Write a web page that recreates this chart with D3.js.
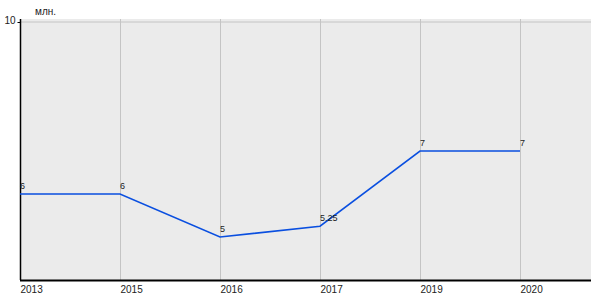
<!DOCTYPE html>
<html>
<head>
<meta charset="utf-8">
<script src="https://cdn.jsdelivr.net/npm/d3@7"></script>
<style>
  body { margin: 0; background: #fff; }
  text { font-family: "Liberation Sans", Arial, sans-serif; fill: #222; }
</style>
</head>
<body>
<svg id="chart" width="600" height="300"></svg>
<script>
const years = ['2013', '2015', '2016', '2017', '2019', '2020'];
const values = [6, 6, 5, 5.25, 7, 7];
const valueLabels = ['6', '6', '5', '5.25', '7', '7'];
const yTicks = [10];
const unitLabel = 'млн.';

const plotLeft = 20, plotRight = 591, plotTop = 19, plotBottom = 280;
const svg = d3.select('#chart');

let x = d3.scalePoint()
    .domain(years)
    .range([plotLeft, 520]);
let y = d3.scaleLinear()
    .domain([4, 10])
    .range([plotBottom, 22]);

svg.append('rect')
    .attr('x', plotLeft)
    .attr('y', plotTop)
    .attr('width', plotRight - plotLeft)
    .attr('height', plotBottom - plotTop)
    .attr('fill', '#ebebeb');

// horizontal grid at labelled ticks
svg.selectAll('line.hgrid')
    .data(yTicks)
    .enter().append('line')
    .attr('class', 'hgrid')
    .attr('x1', plotLeft).attr('x2', plotRight)
    .attr('y1', d => y(d)).attr('y2', d => y(d))
    .attr('stroke', '#c4c4c4');

// vertical grid
svg.selectAll('line.vgrid')
    .data(years)
    .enter().append('line')
    .attr('class', 'vgrid')
    .attr('x1', d => x(d) + 0.5).attr('x2', d => x(d) + 0.5)
    .attr('y1', plotTop).attr('y2', plotBottom)
    .attr('stroke', '#c4c4c4');

// x axis
let xAxis = d3.axisBottom(x).tickSize(0).tickPadding(6);
let gx = svg.append('g')
    .attr('transform', `translate(0, ${plotBottom})`)
    .call(xAxis);
gx.select('.domain').remove();
gx.selectAll('text')
    .attr('text-anchor', 'start')
    .attr('font-size', 10)
    .attr('font-family', 'Liberation Sans, Arial, sans-serif');
svg.append('line')
    .attr('x1', plotLeft).attr('x2', plotRight)
    .attr('y1', plotBottom + 0.5).attr('y2', plotBottom + 0.5)
    .attr('stroke', '#000').attr('stroke-width', 2);

// y axis
let yAxis = d3.axisLeft(y).tickValues(yTicks).tickFormat(d3.format('d'))
    .tickSize(3).tickPadding(2);
let gy = svg.append('g')
    .attr('transform', `translate(${plotLeft + 0.5}, 0)`)
    .call(yAxis);
gy.select('.domain')
    .attr('d', `M0,${plotTop}V${plotBottom}`)
    .attr('stroke', '#000').attr('stroke-width', 1.5);
gy.selectAll('text')
    .attr('font-size', 10)
    .attr('dy', '0.1em')
    .attr('font-family', 'Liberation Sans, Arial, sans-serif');

svg.append('text')
    .attr('x', 35).attr('y', 15)
    .attr('font-size', 10)
    .text(unitLabel);

// line
let line = d3.line()
    .x((d, i) => x(years[i]))
    .y(d => y(d));
svg.append('path')
    .datum(values)
    .attr('d', line)
    .attr('fill', 'none')
    .attr('stroke', '#0a4fe0')
    .attr('stroke-width', 1.6);

svg.selectAll('text.vlabel')
    .data(values)
    .enter().append('text')
    .attr('class', 'vlabel')
    .attr('x', (d, i) => x(years[i]))
    .attr('y', d => y(d) - 5)
    .attr('font-size', 9)
    .text((d, i) => valueLabels[i]);
</script>
</body>
</html>
